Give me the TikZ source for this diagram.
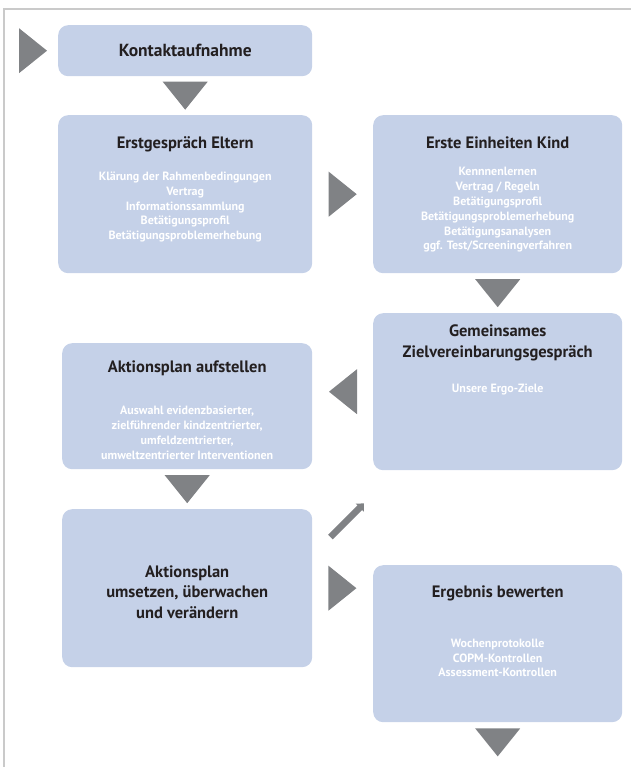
\documentclass[tikz,border=0pt]{standalone}
\usepackage{fontspec}
\setmainfont{PT Sans}
\usetikzlibrary{arrows.meta,positioning,calc}
\definecolor{boxfill}{HTML}{C5D1E8}
\definecolor{trigray}{HTML}{808285}
\definecolor{titletext}{HTML}{231F20}
\definecolor{framegray}{HTML}{CACACA}
\tikzset{
  stage/.style     = {fill=boxfill,rounded corners=10pt,inner sep=0pt,
                      anchor=north west},
  stagetitle/.style = {font=\bfseries\fontsize{16.5}{20.5}\selectfont,
                      text=titletext,align=center,inner sep=0pt},
  stagelist/.style = {font=\bfseries\fontsize{12}{14.8}\selectfont,
                      text=white,align=center,inner sep=0pt},
  diag/.style      = {draw=trigray,line width=6.5pt,
                      -{Triangle[length=6pt,width=11pt]}},
  frame/.style     = {draw=framegray,line width=1.6pt},
}
\newcommand{\flowtri}[3]{%
  \begin{scope}[shift={#2},rotate=#3]
    \fill[trigray] (-14,-22.5) -- (14,0) -- (-14,22.5) -- cycle;
    \coordinate (#1) at (0,0);
  \end{scope}%
}
\begin{document}
\begin{tikzpicture}[x=1pt,y=-1pt]
  \useasboundingbox (0,0) rectangle (631,767);
  \draw[frame] (4,767) -- (4,9) -- (631,9);

  % left column
  \node[stage,minimum width=254pt,minimum height=51pt] (kontakt) at (58,25) {};
  \node[stagetitle,font=\bfseries\fontsize{17.5}{20}\selectfont] (kontakt-t)
    at (kontakt.center) {Kontaktaufnahme};

  \node[stage,minimum width=254pt,minimum height=158pt] (erstg) at (58,115) {};
  \node[stagetitle] (erstg-t) at ($(erstg.north)+(0,29)$) {Erstgespräch Eltern};
  \node[stagelist] (erstg-l) at ($(erstg.north)+(0,92)$)
    {Klärung der Rahmenbedingungen\\Vertrag\\Informationssammlung\\
     Betätigungsprofil\\Betätigungsproblemerhebung};

  \node[stage,minimum width=250pt,minimum height=126pt] (aufst) at (62,343) {};
  \node[stagetitle] (aufst-t) at ($(aufst.north)+(0,25)$) {Aktionsplan aufstellen};
  \node[stagelist] (aufst-l) at ($(aufst.north)+(0,90)$)
    {Auswahl evidenzbasierter,\\zielführender kindzentrierter,\\
     umfeldzentrierter,\\umweltzentrierter Interventionen};

  \node[stage,minimum width=250pt,minimum height=158pt] (umsetzen) at (62,509) {};
  \node[stagetitle] (umsetzen-t) at ($(umsetzen.center)+(0,4)$)
    {Aktionsplan\\umsetzen, überwachen\\und verändern};

  % right column
  \node[stage,minimum width=249pt,minimum height=158pt] (einh) at (373,115) {};
  \node[stagetitle] (einh-t) at ($(einh.north)+(0,28)$) {Erste Einheiten Kind};
  \node[stagelist] (einh-l) at ($(einh.north)+(0,95)$)
    {Kennnenlernen\\Vertrag / Regeln\\Betätigungsprofil\\
     Betätigungsproblemerhebung\\Betätigungsanalysen\\
     ggf. Test/Screeningverfahren};

  \node[stage,minimum width=249pt,minimum height=157pt] (gemein) at (373,313) {};
  \node[stagetitle] (gemein-t) at ($(gemein.north)+(0,30)$)
    {Gemeinsames\\Zielvereinbarungsgespräch};
  \node[stagelist] (gemein-l) at ($(gemein.north)+(0,77)$) {Unsere Ergo-Ziele};

  \node[stage,minimum width=249pt,minimum height=157pt] (ergeb) at (373,565) {};
  \node[stagetitle] (ergeb-t) at ($(ergeb.north)+(0,28)$) {Ergebnis bewerten};
  \node[stagelist] (ergeb-l) at ($(ergeb.north)+(0,93)$)
    {Wochenprotokolle\\COPM-Kontrollen\\Assessment-Kontrollen};

  % triangles between the stages
  \flowtri{t0}{($(kontakt.west)+(-25,0)$)}{0}
  \flowtri{t1}{($(kontakt.south)!.5!(erstg.north)$)}{-90}
  \flowtri{t2}{($(erstg.east)!.5!(einh.west)$)}{0}
  \flowtri{t3}{($(einh.south)!.5!(gemein.north)$)}{-90}
  \flowtri{t4}{($(gemein.west)+(-30,0)$)}{180}
  \flowtri{t5}{($(aufst.south)!.5!(umsetzen.north)$)}{-90}
  \flowtri{t6}{($(umsetzen.east)+(30,0)$)}{0}
  \flowtri{t7}{($(ergeb.south)+(0,20)$)}{-90}

  \coordinate (d-start) at ($(umsetzen.north east)+(18,28)$);
  \coordinate (d-end) at ($(gemein.south west)+(-9,33)$);
  \draw[diag] (d-start) -- (d-end);
\end{tikzpicture}
\end{document}
